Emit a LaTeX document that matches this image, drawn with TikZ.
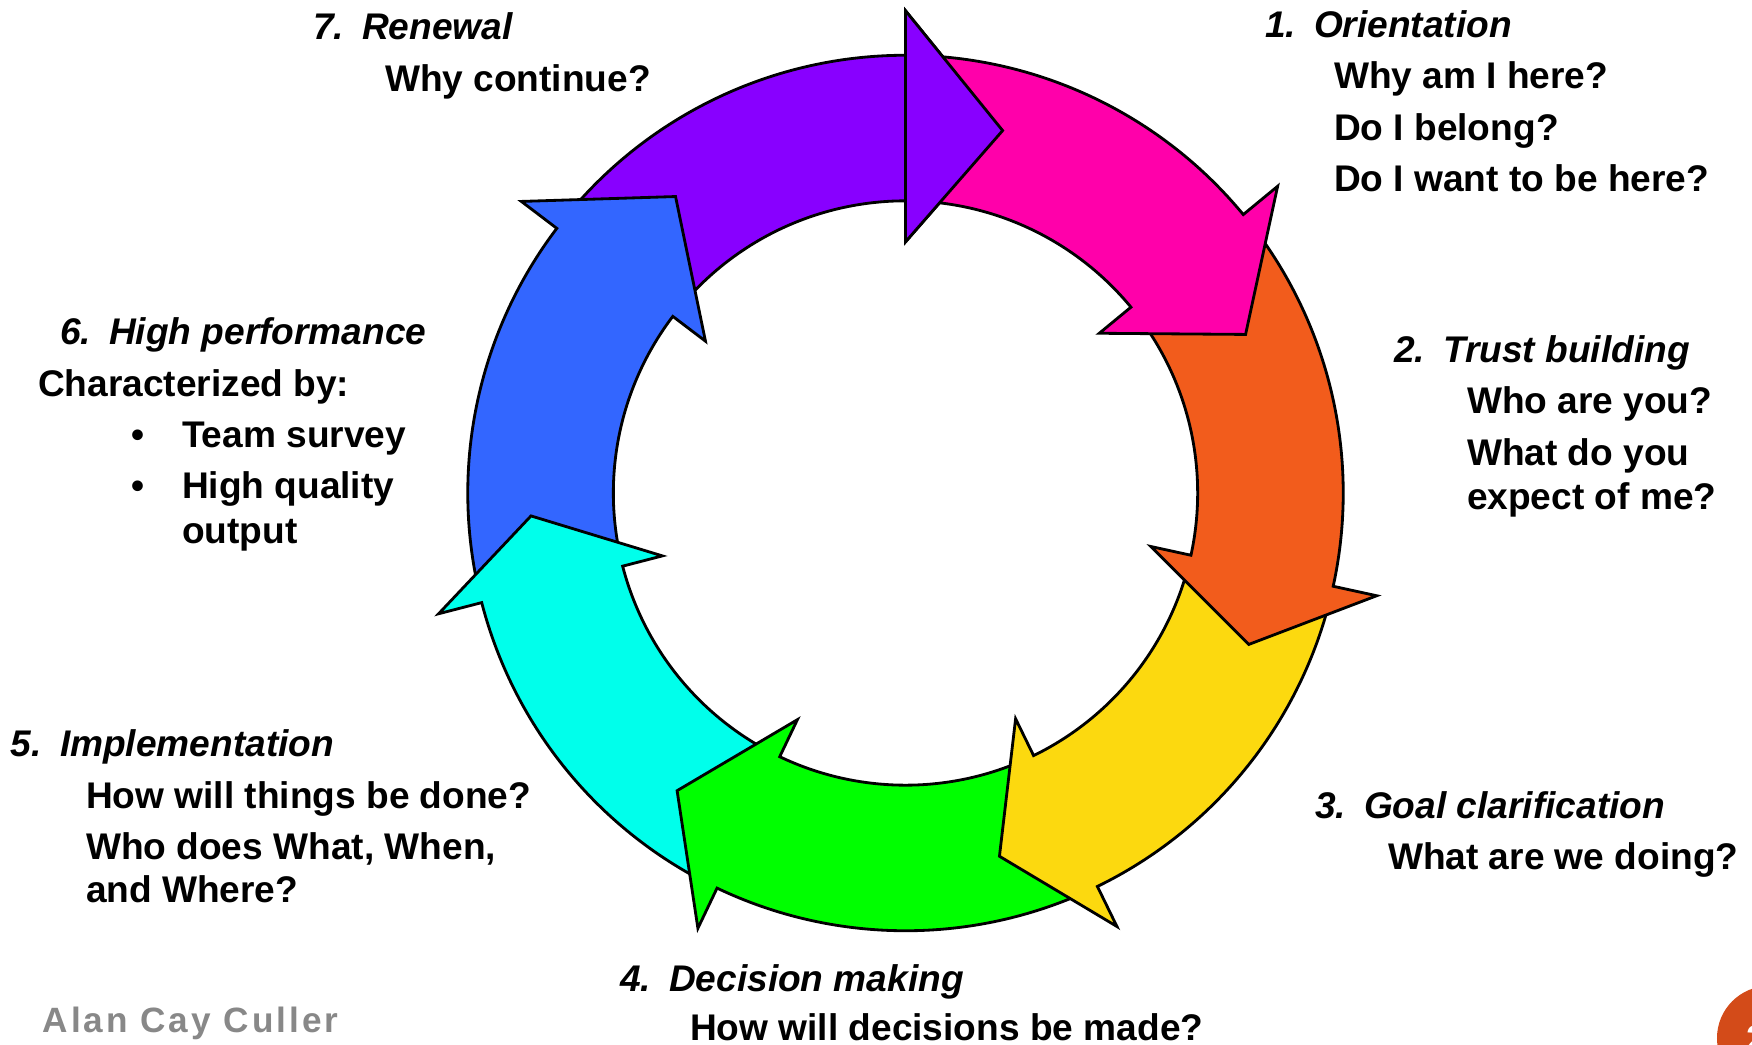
\documentclass[tikz,border=0pt]{standalone}
\usepackage{fontspec}
\setmainfont{Liberation Sans}
\newfontfamily\creditfont[LetterSpace=8.5]{Liberation Sans}
\definecolor{cpurple}{HTML}{8800FF}
\definecolor{cmagenta}{HTML}{FF00AA}
\definecolor{corange}{HTML}{F25C1C}
\definecolor{cyellow}{HTML}{FCD90F}
\definecolor{cgreen}{HTML}{00FF00}
\definecolor{ccyan}{HTML}{00FFEB}
\definecolor{cblue}{HTML}{3366FF}
\definecolor{ccorner}{HTML}{D34B19}
\definecolor{cgray}{HTML}{888888}
\begin{document}
\begin{tikzpicture}[x=0.01cm,y=0.01cm,
  ring/.style={draw=black, line width=0.8pt, line join=miter},
  txt/.style={anchor=base west, inner sep=0pt, outer sep=0pt, font=\fontsize{10.55}{12}\selectfont\bfseries},
  ttl/.style={anchor=base west, inner sep=0pt, outer sep=0pt, font=\fontsize{10.55}{12}\selectfont\bfseries\itshape}]
\useasboundingbox (0,0) rectangle (1752,1044);
\fill[white] (0,0) rectangle (1752,1044);
% ring of arrows: base angle / tail angle / head length (deg) / colour
\begin{scope}[shift={(905.5,551)}]
\foreach \b/\t/\h/\c in {90/140.8/15/cpurple, -217.2/-167.5/15/cblue, -165.5/-117.5/11/ccyan, -115.5/-66/12/cgreen, -64/-14.3/11.5/cyellow, -12.3/37.5/11.5/corange, 39.5/88/14.5/cmagenta}{
  \filldraw[ring, fill=\c] (\t:4.375cm) arc[start angle=\t, end angle=\b, radius=4.375cm]
    -- (\b:4.82cm) -- ({\b-\h}:3.75cm) -- (\b:2.51cm) -- (\b:2.92cm)
    arc[start angle=\b, end angle=\t, radius=2.92cm] -- cycle;
}
\filldraw[ring, fill=cpurple] (90:4.82cm) -- (75:3.75cm) -- (90:2.51cm) -- cycle;
\end{scope}
% corner badge
\fill[ccorner] (1769,6) circle[radius=0.52cm];
\node[txt, text=white] (pagenum) at (1746,-7) {2};
% 7 Renewal
\node[ttl] (t7) at (313,1005) {\makebox[0.49cm][l]{7.}Renewal};
\node[txt] (t7a) at (385,953) {Why continue?};
% 1 Orientation
\node[ttl] (t1) at (1265,1007) {\makebox[0.49cm][l]{1.}Orientation};
\node[txt] (t1a) at (1334,956) {Why am I here?};
\node[txt] (t1b) at (1334,904) {Do I belong?};
\node[txt] (t1c) at (1334,852.5) {Do I want to be here?};
% 2 Trust building
\node[ttl] (t2) at (1394,682) {\makebox[0.49cm][l]{2.}Trust building};
\node[txt] (t2a) at (1467,631) {Who are you?};
\node[txt] (t2b) at (1467,579) {What do you};
\node[txt] (t2c) at (1467,535) {expect of me?};
% 3 Goal clarification
\node[ttl] (t3) at (1315,226) {\makebox[0.49cm][l]{3.}Goal clarification};
\node[txt] (t3a) at (1388,175) {What are we doing?};
% 4 Decision making
\node[ttl] (t4) at (620,53) {\makebox[0.49cm][l]{4.}Decision making};
\node[txt] (t4a) at (690,4) {How will decisions be made?};
% 5 Implementation
\node[ttl] (t5) at (11,288) {\makebox[0.49cm][l]{5.}Implementation};
\node[txt] (t5a) at (86,236) {How will things be done?};
\node[txt] (t5b) at (86,185) {Who does What, When,};
\node[txt] (t5c) at (86,142) {and Where?};
% 6 High performance
\node[ttl] (t6) at (60,700) {\makebox[0.49cm][l]{6.}High performance};
\node[txt] (t6a) at (38,648) {Characterized by:};
\node[txt] (b1) at (131,597) {•};
\node[txt] (t6b) at (182,597) {Team survey};
\node[txt] (b2) at (131,546) {•};
\node[txt] (t6c) at (182,546) {High quality};
\node[txt] (t6d) at (182,501) {output};
% credit
\node[anchor=base west, inner sep=0pt, text=cgray, font=\creditfont\fontsize{10}{12}\selectfont\bfseries] (credit) at (42,12) {Alan Cay Culler};
\end{tikzpicture}
\end{document}
